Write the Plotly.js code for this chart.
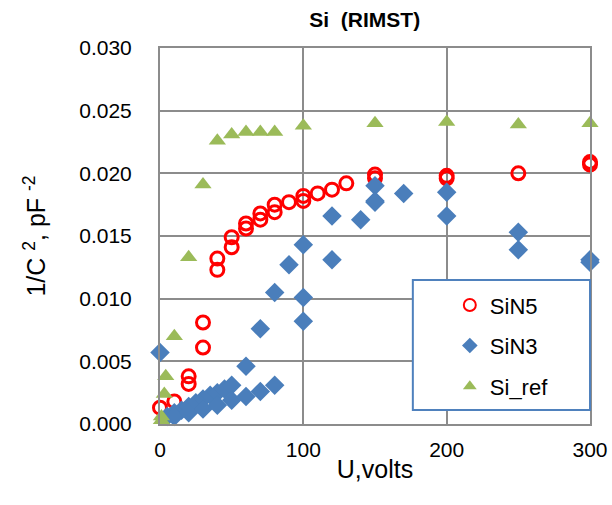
<!DOCTYPE html>
<html>
<head>
<meta charset="utf-8">
<script src="https://cdn.plot.ly/plotly-3.0.1.min.js"></script>
<style>html,body{margin:0;padding:0;background:#fff;}#chart{width:612px;height:505px;}</style>
</head>
<body>
<div id="chart"></div>
<script>
// SiN5 (red open circles)
const sin5X = [0, 10, 20, 20, 30, 30, 40, 40, 50, 50, 60, 60, 70, 70, 80, 80, 90, 100, 100, 110, 120, 130, 150, 150, 200, 200, 250, 300, 300];
const sin5Y = [0.0013, 0.0018, 0.0038, 0.0032, 0.0081, 0.0061, 0.0132, 0.0123, 0.0149, 0.0141, 0.0160, 0.0156, 0.0168, 0.0163, 0.0175, 0.0169, 0.0177, 0.0182, 0.0178, 0.0184, 0.0187, 0.0192, 0.0199, 0.0196, 0.0198, 0.0196, 0.0200, 0.0209, 0.0207];
// SiN3 (blue diamonds)
const sin3X = [0, 5, 10, 15, 20, 25, 30, 35, 40, 45, 50, 10, 20, 30, 40, 50, 60, 70, 80, 60, 70, 80, 90, 100, 100, 100, 120, 120, 140, 150, 150, 150, 170, 200, 200, 250, 250, 300, 300];
const sin3Y = [0.0057, 0.0006, 0.0009, 0.0011, 0.0014, 0.0017, 0.0020, 0.0023, 0.0025, 0.0028, 0.0031, 0.0006, 0.0009, 0.0012, 0.0015, 0.0019, 0.0022, 0.0026, 0.0031, 0.0046, 0.0076, 0.0105, 0.0127, 0.0143, 0.0101, 0.0082, 0.0166, 0.0131, 0.0163, 0.0190, 0.0178, 0.0177, 0.0184, 0.0185, 0.0166, 0.0153, 0.0139, 0.0131, 0.0129];
// Si_ref (green triangles)
const refX = [1, 1, 3, 4, 10, 20, 30, 40, 50, 60, 70, 80, 100, 150, 200, 250, 300];
const refY = [0.0003, 0.0006, 0.0024, 0.0038, 0.0070, 0.0133, 0.0191, 0.0226, 0.0231, 0.0233, 0.0233, 0.0233, 0.0238, 0.0240, 0.0241, 0.0239, 0.0240];

const xTicks = [0, 100, 200, 300];
const yTicks = [0, 0.005, 0.010, 0.015, 0.020, 0.025, 0.030];
const yTickText = ['0.000', '0.005', '0.010', '0.015', '0.020', '0.025', '0.030'];

const FONT = 'Liberation Sans, Arial, sans-serif';

const traces = [
  {x: sin5X, y: sin5Y, type: 'scatter', mode: 'markers', name: 'SiN5', legendgroup: 'a', cliponaxis: false,
   marker: {symbol: 'circle-open', size: 13, color: '#ff0000', line: {width: 3, color: '#ff0000'}}},
  {x: sin3X, y: sin3Y, type: 'scatter', mode: 'markers', name: 'SiN3', legendgroup: 'b', cliponaxis: false,
   marker: {symbol: 'diamond', size: 15, color: '#4a7ebb'}},
  {x: refX, y: refY, type: 'scatter', mode: 'markers', name: 'Si_ref', legendgroup: 'c', cliponaxis: false,
   marker: {symbol: 'triangle-up', size: 15, color: '#9bbb59'}}
];

const layout = {
  width: 612, height: 505,
  margin: {l: 160, r: 22, t: 48, b: 81},
  paper_bgcolor: '#ffffff', plot_bgcolor: '#ffffff',
  font: {family: FONT, color: '#000000'},
  title: {text: '<b>Si  (RIMST)</b>', font: {size: 21, family: FONT}, x: 0.596, xanchor: 'center', y: 0.962, yanchor: 'middle'},
  xaxis: {
    range: [0, 300], tickvals: xTicks, ticktext: xTicks.map(String),
    showgrid: true, gridcolor: '#8c8c8c', gridwidth: 2,
    showline: true, linecolor: '#8c8c8c', linewidth: 2, mirror: true,
    zeroline: false, ticks: '', tickfont: {size: 21}, ticklabelstandoff: 6,
    title: {text: 'U,volts', font: {size: 25}, standoff: 0}
  },
  yaxis: {
    range: [0, 0.030], tickvals: yTicks, ticktext: yTickText,
    showgrid: true, gridcolor: '#8c8c8c', gridwidth: 2,
    showline: true, linecolor: '#8c8c8c', linewidth: 2, mirror: true,
    zeroline: false, ticks: '', tickfont: {size: 21}, ticklabelstandoff: 22,
    title: {text: '1/C <sup>2</sup>, pF <sup>-2</sup>', font: {size: 25}, standoff: 26}
  },
  shapes: [
    {type: 'rect', xref: 'paper', yref: 'paper', x0: 0.588, x1: 1.0, y0: 0.037, y1: 0.383,
     fillcolor: '#ffffff', line: {color: '#4f81bd', width: 2}, layer: 'above'}
  ],
  legend: {
    x: 0.674, y: 0.372, xanchor: 'left', yanchor: 'top',
    bgcolor: 'rgba(0,0,0,0)', borderwidth: 0,
    font: {size: 22}, itemsizing: 'constant', tracegroupgap: 9, traceorder: 'grouped'
  },
  showlegend: true
};

Plotly.newPlot('chart', traces, layout, {staticPlot: true, displayModeBar: false});
</script>
</body>
</html>
